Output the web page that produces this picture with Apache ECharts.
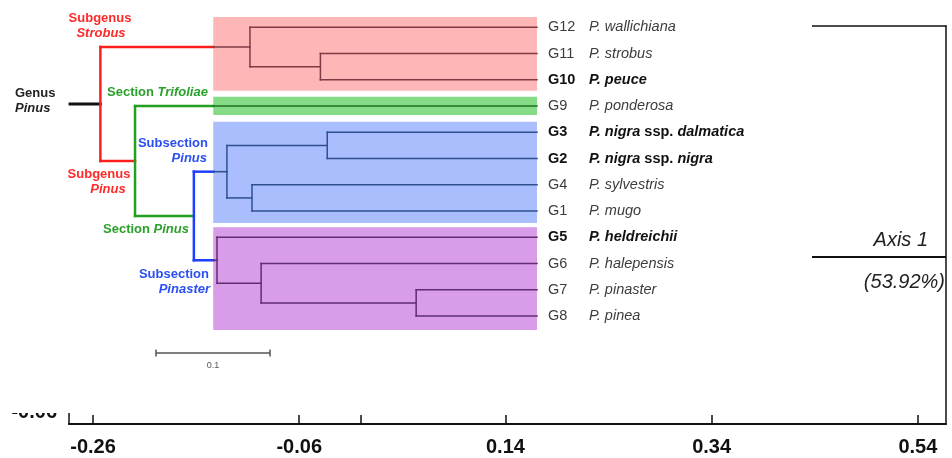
<!DOCTYPE html>
<html><head><meta charset="utf-8">
<script src="https://cdn.jsdelivr.net/npm/echarts@6/dist/echarts.min.js"></script>
<style>html,body{margin:0;padding:0;background:#fff}#c{width:952px;height:458px}</style>
</head><body><div id="c"></div>
<script>
// ---------- data ----------
const leafCodes = ['G12','G11','G10','G9','G3','G2','G4','G1','G5','G6','G7','G8'];
const leafNames = ['P. wallichiana','P. strobus','P. peuce','P. ponderosa','P. nigra ssp. dalmatica','P. nigra ssp. nigra','P. sylvestris','P. mugo','P. heldreichii','P. halepensis','P. pinaster','P. pinea'];
const boldLeaves = ['G10','G3','G2','G5'];
// internal nodes: heights = distance from the tips (dendrogram units)
const nodeIds = ['root','strobus','n11_10','pinus','secPinus','subPinus','n3_2','n4_1','pinaster','n6_7_8','n7_8'];
const nodeHeights = [0.383,0.2518,0.190,0.3526,0.301,0.272,0.184,0.250,0.2807,0.242,0.106];
const nodeChildren = [['strobus','pinus'],['G12','n11_10'],['G11','G10'],['G9','secPinus'],['subPinus','pinaster'],['n3_2','n4_1'],['G3','G2'],['G4','G1'],['G5','n6_7_8'],['G6','n7_8'],['G7','G8']];
const rootStemHeight = 0.4096;
// coloured clade boxes (leaf index ranges)
const boxLeafRanges = [[0,2],[3,3],[4,7],[8,11]];
const scaleBarLength = 0.1;
// PCA axis remnant
const pcaTicks = [-0.26,-0.06,0,0.14,0.34,0.54];
const pcaTickLabels = [-0.26,-0.06,0.14,0.34,0.54];
const pcaYLabels = [-0.06];
const axisName = ['Axis 1','(53.92%)'];

// ---------- styles ----------
const FONT = 'Liberation Sans, Arial, Helvetica, sans-serif';
const boxFill = ['#FFB6B6','#86DC86','#AABEFD','#D89CE8'];
const boxLine = ['#7D3B44','#1D6E22','#2E5090','#5F2D70'];
const boxPad = [[0.39,0.415],[0.35,0.34],[0.405,0.455],[0.38,0.53]];
const boxEdge = 0.284;
const outerColor = {root:'#FF1F1F', pinus:'#22A022', secPinus:'#1F3FFF'};
const RED='#FF2A2A', GREEN='#2BA02B', BLUE='#2B4FF5';

// ---------- tree geometry ----------
const leafIndex = {}; leafCodes.forEach((c,i)=>leafIndex[c]=i);
const nodeIndex = {}; nodeIds.forEach((n,i)=>nodeIndex[n]=i);
function isLeaf(id){ return id in leafIndex; }
function yOf(id){ if (isLeaf(id)) return leafIndex[id]; const ch = nodeChildren[nodeIndex[id]]; return ch.map(yOf).reduce((a,b)=>a+b,0)/ch.length; }
function hOf(id){ return isLeaf(id) ? 0 : nodeHeights[nodeIndex[id]]; }
function firstLeaf(id){ return isLeaf(id) ? leafIndex[id] : firstLeaf(nodeChildren[nodeIndex[id]][0]); }
function boxOf(id){ const f = firstLeaf(id); return boxLeafRanges.findIndex(r=>f>=r[0]&&f<=r[1]); }

const segs = [];
segs.push([rootStemHeight, yOf('root'), hOf('root'), yOf('root'), '#111', 3]);
nodeIds.forEach(id=>{
  const h = hOf(id), ch = nodeChildren[nodeIndex[id]];
  const ys = ch.map(yOf);
  const inside = h < boxEdge;
  segs.push([h, Math.min(...ys), h, Math.max(...ys), inside ? boxLine[boxOf(id)] : outerColor[id], inside ? 1.5 : 2.5]);
  ch.forEach((c,k)=>{
    const hc = hOf(c), yc = ys[k];
    if (inside) segs.push([h,yc,hc,yc,boxLine[boxOf(c)],1.5]);
    else {
      segs.push([h,yc,Math.max(hc,boxEdge),yc,outerColor[id],2.5]);
      if (hc < boxEdge) segs.push([boxEdge,yc,hc,yc,boxLine[boxOf(c)],1.6]);
    }
  });
});

function leafLabel(v){
  if (Math.abs(v-Math.round(v))>1e-6) return '';
  const i = Math.round(v);
  if (i<0 || i>=leafCodes.length) return '';
  const code = leafCodes[i], b = boldLeaves.includes(code);
  const parts = leafNames[i].split(' ssp. ');
  let s = '{' + (b?'cb':'c') + '|' + code + '}{' + (b?'ib':'i') + '|' + parts[0] + '}';
  if (parts.length>1) s += '{' + (b?'b':'n') + '| ssp. }{' + (b?'ib':'i') + '|' + parts[1] + '}';
  return s;
}

const chart = echarts.init(document.getElementById('c'));
const gText = (text, x, y, color, align, extra) => Object.assign({
  type:'text', z:12,
  style:{text, x, y, fill:color, align, verticalAlign:'middle', fontFamily:FONT, fontSize:13, fontWeight:'bold',
    rich:{i:{fontStyle:'italic', fontWeight:'bold', fill:color, fontSize:13, fontFamily:FONT}}}
}, extra||{});
const LS = 14.5;

chart.setOption({
  animation:false,
  textStyle:{fontFamily:FONT},
  grid:[
    {left:69, right:6, top:26, bottom:34},
    {left:0, width:537, top:1.05, height:393.75}
  ],
  xAxis:[
    {gridIndex:0, type:'value', min:-0.2833, max:0.5673, position:'bottom',
     axisLine:{show:true, onZero:false, lineStyle:{color:'#111', width:2}},
     axisTick:{show:true, inside:true, length:9, customValues:pcaTicks, lineStyle:{color:'#111', width:1.5}},
     axisLabel:{customValues:pcaTickLabels, formatter:v=>v.toFixed(2), color:'#111', fontWeight:'bold', fontSize:20, margin:13},
     splitLine:{show:false}},
    {gridIndex:0, type:'value', position:'top', min:-0.2833, max:0.5673,
     axisLine:{show:true, onZero:false, lineStyle:{color:'#111', width:1.5}}, axisTick:{show:false}, axisLabel:{show:false}, splitLine:{show:false}},
    {gridIndex:1, type:'value', min:0, max:537/1140, inverse:true, show:false}
  ],
  yAxis:[
    {gridIndex:0, type:'value', min:-0.06465, max:0.0894, position:'left',
     axisLine:{show:true, onZero:false, lineStyle:{color:'#111', width:1.5}}, axisTick:{show:false},
     axisLabel:{customValues:pcaYLabels, formatter:v=>v.toFixed(2), color:'#111', fontWeight:'bold', fontSize:20, margin:12},
     splitLine:{show:false}},
    {gridIndex:0, type:'value', position:'right', min:-0.06465, max:0.0894,
     axisLine:{show:true, onZero:false, lineStyle:{color:'#111', width:1.5}}, axisTick:{show:false}, axisLabel:{show:false}, splitLine:{show:false}},
    {gridIndex:1, type:'value', min:-1, max:14, interval:1, inverse:true, position:'right', z:10,
     axisLine:{show:false}, axisTick:{show:false}, splitLine:{show:false},
     axisLabel:{show:true, margin:11, formatter:leafLabel, showMinLabel:true, showMaxLabel:true,
       rich:{
         c:{width:41, fontSize:LS, color:'#3c3c3c', fontFamily:FONT},
         cb:{width:41, fontSize:LS, color:'#111', fontWeight:'bold', fontFamily:FONT},
         i:{fontSize:LS, color:'#3c3c3c', fontStyle:'italic', fontFamily:FONT},
         ib:{fontSize:LS, color:'#111', fontStyle:'italic', fontWeight:'bold', fontFamily:FONT},
         n:{fontSize:LS, color:'#3c3c3c', fontFamily:FONT},
         b:{fontSize:LS, color:'#111', fontWeight:'bold', fontFamily:FONT}
       }}}
  ],
  series:[
    {type:'line', xAxisIndex:0, yAxisIndex:0, z:1, silent:true, symbol:'none',
     data:[[-0.2833,0],[0.5673,0]], lineStyle:{color:'#111', width:2}},
    {type:'custom', xAxisIndex:2, yAxisIndex:2, z:8, silent:true, clip:false,
     data:boxLeafRanges.map((r,i)=>[boxEdge, r[0], 0, r[1]]),
     renderItem:(params, api)=>{
       const i = params.dataIndex, r = boxLeafRanges[i];
       const p1 = api.coord([boxEdge, r[0]-boxPad[i][0]]), p2 = api.coord([0, r[1]+boxPad[i][1]]);
       return {type:'rect', shape:{x:p1[0], y:p1[1], width:p2[0]-p1[0], height:p2[1]-p1[1]}, style:{fill:boxFill[i]}};
     }},
    {type:'custom', xAxisIndex:2, yAxisIndex:2, z:10, silent:true, clip:false,
     data:segs.map(s=>[s[0],s[1],s[2],s[3]]),
     renderItem:(params, api)=>{
       const s = segs[params.dataIndex];
       const p1 = api.coord([s[0], s[1]]), p2 = api.coord([s[2], s[3]]);
       return {type:'line', shape:{x1:p1[0], y1:p1[1], x2:p2[0], y2:p2[1]}, style:{stroke:s[4], lineWidth:s[5], lineCap:'square'}};
     }},
    {type:'custom', xAxisIndex:2, yAxisIndex:2, z:10, silent:true, clip:false,
     data:[[0.3342, 12.41, 0.3342-scaleBarLength]],
     renderItem:(params, api)=>{
       const p1 = api.coord([api.value(0), api.value(1)]), p2 = api.coord([api.value(2), api.value(1)]);
       const st = {stroke:'#555', lineWidth:1.5};
       return {type:'group', children:[
         {type:'line', shape:{x1:p1[0], y1:p1[1], x2:p2[0], y2:p2[1]}, style:st},
         {type:'line', shape:{x1:p1[0], y1:p1[1]-3.5, x2:p1[0], y2:p1[1]+3.5}, style:st},
         {type:'line', shape:{x1:p2[0], y1:p2[1]-3.5, x2:p2[0], y2:p2[1]+3.5}, style:st},
         {type:'text', style:{text:String(scaleBarLength), x:(p1[0]+p2[0])/2, y:p1[1]+12, align:'center', verticalAlign:'middle', fontSize:9, fill:'#555', fontFamily:FONT}}
       ]};
     }}
  ],
  graphic:[
    {type:'rect', z:5, silent:true, shape:{x:0, y:0, width:812, height:413}, style:{fill:'#fff'}},
    {type:'text', z:12, style:{text:axisName[0], x:928, y:240, align:'right', verticalAlign:'middle', fontSize:20, fontStyle:'italic', fill:'#222', fontFamily:FONT}},
    {type:'text', z:12, style:{text:axisName[1], x:945, y:282, align:'right', verticalAlign:'middle', fontSize:20, fontStyle:'italic', fill:'#222', fontFamily:FONT}},
    gText('Subgenus', 100, 18, RED, 'center'),
    gText('{i|Strobus}', 101, 33, RED, 'center'),
    gText('Genus', 15, 93, '#222', 'left'),
    gText('{i|Pinus}', 15, 108, '#222', 'left'),
    gText('Section {i|Trifoliae}', 107, 92, GREEN, 'left'),
    gText('Subsection', 208, 143, BLUE, 'right'),
    gText('{i|Pinus}', 207, 158, BLUE, 'right'),
    gText('Subgenus', 99, 174, RED, 'center'),
    gText('{i|Pinus}', 108, 189, RED, 'center'),
    gText('Section {i|Pinus}', 103, 229, GREEN, 'left'),
    gText('Subsection', 209, 274, BLUE, 'right'),
    gText('{i|Pinaster}', 210, 289, BLUE, 'right')
  ]
});
</script></body></html>
